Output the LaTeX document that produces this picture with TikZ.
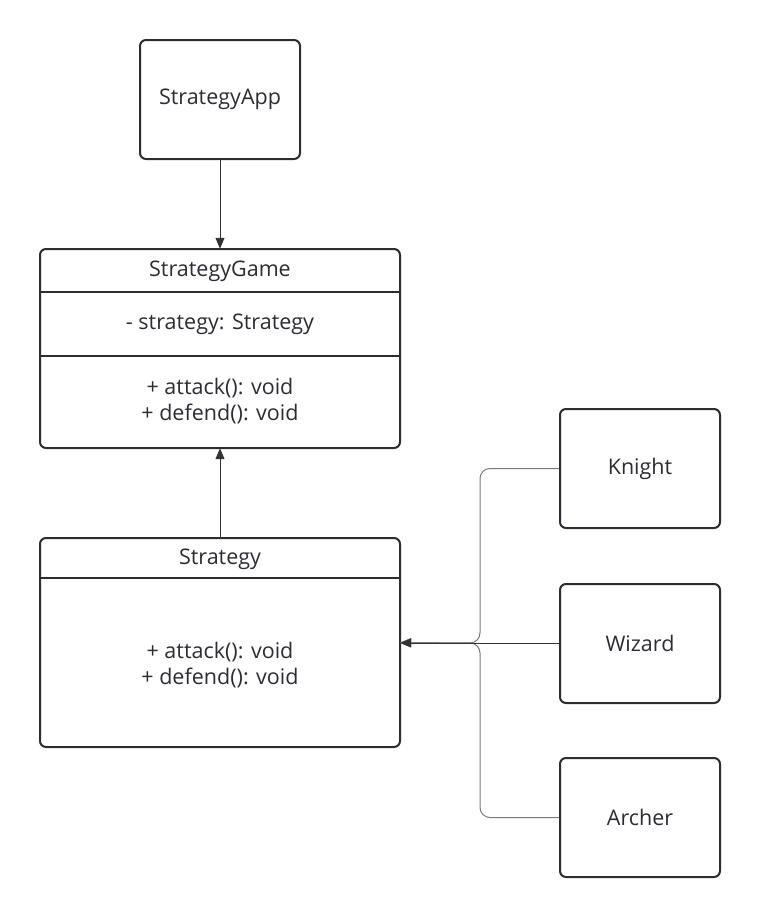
\documentclass[tikz,border=0pt]{standalone}
\usepackage{fontspec}
\setmainfont{Open Sans}
\usetikzlibrary{arrows.meta}
\definecolor{ink}{HTML}{2B2D33}
\definecolor{wire}{HTML}{333333}
\definecolor{wiregray}{HTML}{7A7A7A}
\begin{document}
\begin{tikzpicture}[x=1pt,y=-1pt,
  box/.style={draw=ink,line width=2pt,rounded corners=6pt,fill=white},
  lbl/.style={font=\fontsize{21.5}{26}\selectfont,text=ink,align=center},
  dline/.style={draw=ink,line width=2pt},
  conn/.style={draw=wire,line width=1pt,-{Triangle[length=11pt,width=9pt]}},
  branch/.style={draw=wiregray,line width=1pt,rounded corners=10pt,-{Triangle[length=11pt,width=9pt]}}]
\useasboundingbox (0,0) rectangle (760,918);
% StrategyApp
\node[box,minimum width=160pt,minimum height=119pt,inner sep=0pt] (app) at (220,99.5) {};
\node[lbl] (appt) at (app.center) {StrategyApp};
% StrategyGame
\path (40,249) coordinate (gtl) (400,448) coordinate (gbr);
\draw[box] (gtl) rectangle (gbr);
\coordinate (g) at (220,348.5);
\node (game) [inner sep=0pt,minimum width=360pt,minimum height=199pt] at (g) {};
\draw[dline] (40,292) -- (400,292);
\draw[dline] (40,356) -- (400,356);
\node[lbl] (gname) at (220,271) {StrategyGame};
\node[lbl] (gattr) at (220,324) {- strategy: Strategy};
\node[lbl] (gops) at (220,401) {+ attack(): void\\+ defend(): void};
% Strategy
\draw[box] (40,538) rectangle (400,747);
\node (strat) [inner sep=0pt,minimum width=360pt,minimum height=209pt] at (220,642.5) {};
\draw[dline] (40,578) -- (400,578);
\node[lbl] (sname) at (220,559) {Strategy};
\node[lbl] (sops) at (220,665) {+ attack(): void\\+ defend(): void};
% subclasses
\node[box,minimum width=160pt,minimum height=119pt,inner sep=0pt] (knight) at (640,468.5) {};
\node[lbl] at (knight.center) {Knight};
\node[box,minimum width=160pt,minimum height=119pt,inner sep=0pt] (wizard) at (640,643.5) {};
\node[lbl] at (wizard.center) {Wizard};
\node[box,minimum width=160pt,minimum height=119pt,inner sep=0pt] (archer) at (640,817.5) {};
\node[lbl] at (archer.center) {Archer};
% connectors
\draw[conn] (app.south) -- (game.north);
\draw[conn] (strat.north) -- (game.south);
\coordinate (jn) at (480,643);
\draw[branch] (knight.west) -| (jn) -- (strat.east);
\draw[branch] (archer.west) -| (jn) -- (strat.east);
\draw[conn] (wizard.west |- jn) -- (strat.east |- jn);
\end{tikzpicture}
\end{document}
